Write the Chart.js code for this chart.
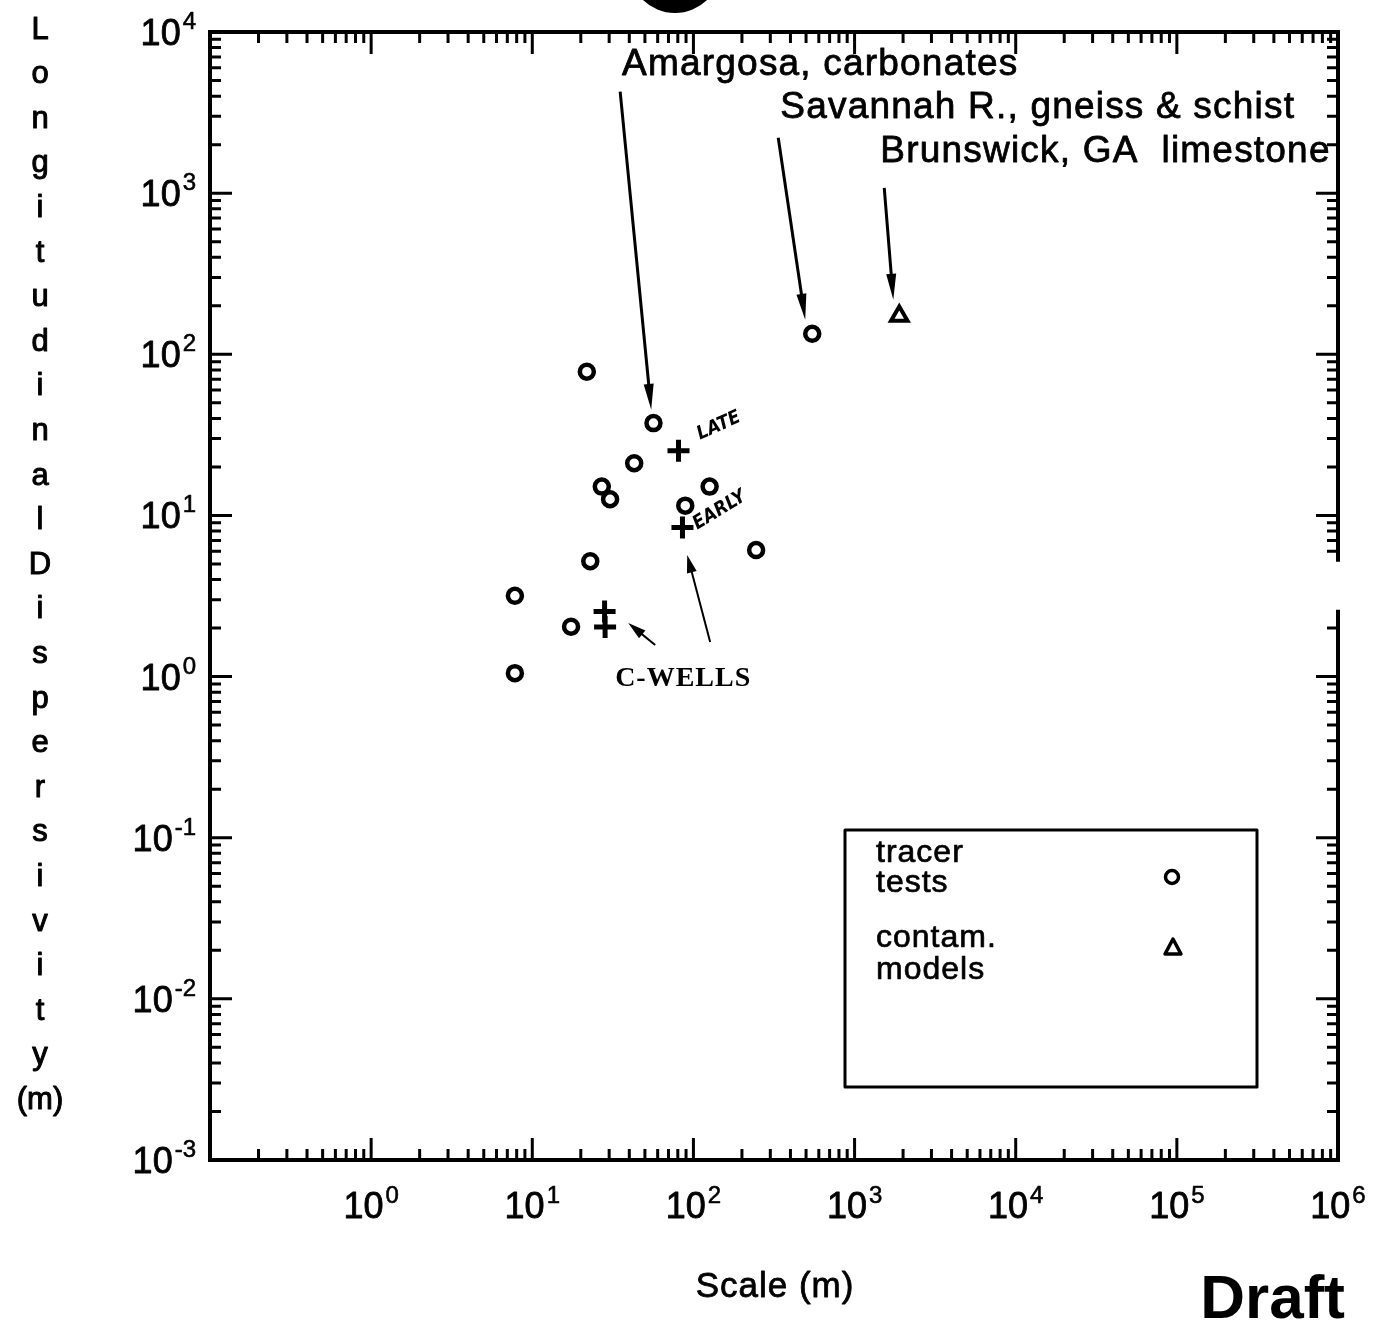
<!DOCTYPE html>
<html>
<head>
<meta charset="utf-8">
<title>Longitudinal dispersivity vs scale</title>
<script src="https://cdn.jsdelivr.net/npm/chart.js@4.4.0/dist/chart.umd.min.js"></script>
<style>
html, body { margin: 0; padding: 0; background: #fff; }
#wrap { width: 1379px; height: 1323px; }
</style>
</head>
<body>
<div id="wrap"><canvas id="chart" width="1379" height="1323"></canvas></div>
<script>
// values (scale in m, dispersivity in m)
const tracerX = [7.8, 7.8, 17.4, 21.8, 22.9, 27.0, 30.4, 42.9, 56.5, 89, 126, 245, 546];
const tracerY = [3.17, 1.05, 2.04, 78, 5.2, 15.1, 12.6, 21.1, 37.4, 11.5, 15.1, 6.1, 134];
const contamX = [1894];
const contamY = [173];
const cwellsX = [80.8, 85.5, 28.1, 28.3];
const cwellsY = [25.2, 8.41, 2.53, 2.03];

// axis ticks (powers of ten)
const xTickPowers = [0, 1, 2, 3, 4, 5, 6];
const yTickPowers = [4, 3, 2, 1, 0, -1, -2, -3];

// text
const xTitle = 'Scale (m)';
const yTitle = ['L','o','n','g','i','t','u','d','i','n','a','l','D','i','s','p','e','r','s','i','v','i','t','y','(m)'];
const legendRows = [['tracer', 'tests'], ['contam.', 'models']];

// annotation labels, anchored in data units
const noteText  = ['Amargosa, carbonates', 'Savannah R., gneiss & schist', 'Brunswick, GA  limestone'];
const noteX     = [36.1, 346, 1445];
const noteY     = [5433, 2938, 1567];
// arrows: tail -> head, in data units
const arrowX0 = [35.1, 336, 1528, 57.9, 127];
const arrowY0 = [4261, 2208, 1080, 1.57, 1.64];
const arrowX1 = [54.7, 494, 1739, 39.4, 91.5];
const arrowY1 = [45.2, 164, 218, 2.15, 5.69];

const SANS = "'Liberation Sans', Arial, Helvetica, sans-serif";

// scanned print is heavy, so fill and stroke the glyphs
function inkText(c, t, x, y, w) {
    c.fillText(t, x, y);
    if (w > 0) {
        c.lineWidth = w;
        c.lineJoin = 'round';
        c.strokeText(t, x, y);
    }
}

function drawArrow(c, x0, y0, x1, y1, lw, headLen, headW) {
    const a = Math.atan2(y1 - y0, x1 - x0);
    c.save();
    c.lineWidth = lw;
    c.strokeStyle = '#000';
    c.fillStyle = '#000';
    c.beginPath();
    c.moveTo(x0, y0);
    c.lineTo(x1 - Math.cos(a) * headLen * 0.8, y1 - Math.sin(a) * headLen * 0.8);
    c.stroke();
    c.beginPath();
    c.moveTo(x1, y1);
    c.lineTo(x1 - Math.cos(a) * headLen - Math.sin(a) * headW, y1 - Math.sin(a) * headLen + Math.cos(a) * headW);
    c.lineTo(x1 - Math.cos(a) * headLen + Math.sin(a) * headW, y1 - Math.sin(a) * headLen - Math.cos(a) * headW);
    c.closePath();
    c.fill();
    c.restore();
}

// box, inward ticks on all four sides, power-of-ten labels with superscripts
const framePlugin = {
    id: 'frame',
    afterDatasetsDraw(chart) {
        const c = chart.ctx;
        const xs = chart.scales.x, ys = chart.scales.y;
        const a = chart.chartArea;
        const gapTop = ys.getPixelForValue(5.15), gapBot = ys.getPixelForValue(2.6);
        c.save();
        c.strokeStyle = '#000';
        c.lineCap = 'butt';

        // frame
        c.lineWidth = 4;
        c.beginPath();
        c.moveTo(a.left, a.top); c.lineTo(a.right, a.top);
        c.moveTo(a.left, a.bottom); c.lineTo(a.right, a.bottom);
        c.moveTo(a.left, a.top - 2); c.lineTo(a.left, a.bottom + 2);
        c.moveTo(a.right, a.top - 2); c.lineTo(a.right, gapTop);
        c.moveTo(a.right, gapBot); c.lineTo(a.right, a.bottom + 2);
        c.stroke();

        // ticks
        c.lineWidth = 3;
        c.beginPath();
        for (let p = -1; p <= 6; p++) {
            for (let m = 1; m <= 9; m++) {
                const v = m * Math.pow(10, p);
                if (v < 0.1 || v > 1e6) continue;
                const px = xs.getPixelForValue(v);
                const len = m === 1 ? 22 : 11;
                c.moveTo(px, a.bottom); c.lineTo(px, a.bottom - len);
                c.moveTo(px, a.top); c.lineTo(px, a.top + len);
            }
        }
        for (let p = -3; p <= 4; p++) {
            for (let m = 1; m <= 9; m++) {
                const v = m * Math.pow(10, p);
                if (v > 1e4) continue;
                const py = ys.getPixelForValue(v);
                const len = m === 1 ? 22 : 11;
                c.moveTo(a.left, py); c.lineTo(a.left + len, py);
                if (py < gapTop - 1 || py > gapBot + 1) {
                    c.moveTo(a.right, py); c.lineTo(a.right - len, py);
                }
            }
        }
        c.stroke();

        // tick labels
        c.fillStyle = '#000';
        c.textBaseline = 'alphabetic';
        const big = '36px ' + SANS, small = '24px ' + SANS;
        xTickPowers.forEach(p => {
            const px = xs.getPixelForValue(Math.pow(10, p));
            c.font = big;
            const wb = c.measureText('10').width;
            c.font = small;
            const ws = c.measureText(String(p)).width;
            const left = px - (wb + ws + 2) / 2;
            c.font = big;
            c.textAlign = 'left';
            inkText(c, '10', left, 1218, 0.8);
            c.font = small;
            inkText(c, String(p), left + wb + 2, 1203, 0.6);
        });
        yTickPowers.forEach(p => {
            const py = ys.getPixelForValue(Math.pow(10, p));
            const exp = p < 0 ? '-' + Math.abs(p) : String(p);
            c.font = small;
            const ws = c.measureText(exp).width;
            c.textAlign = 'right';
            c.font = big;
            inkText(c, '10', 196 - ws - 2, py + 13, 0.8);
            c.font = small;
            inkText(c, exp, 196, py - 3, 0.6);
        });

        // axis titles
        c.font = '35px ' + SANS;
        c.letterSpacing = '1px';
        c.textAlign = 'center';
        inkText(c, xTitle, 775, 1297, 0.8);
        c.letterSpacing = '0px';
        c.font = '31px ' + SANS;
        c.textBaseline = 'middle';
        yTitle.forEach((s, i) => {
            inkText(c, s, 40, 30 + i * 44.6, 1);
        });

        // "Draft" stamp
        c.font = 'bold 62px ' + SANS;
        c.textAlign = 'right';
        c.textBaseline = 'alphabetic';
        c.fillText('Draft', 1345, 1318);

        // dark blot above the frame
        c.beginPath();
        c.arc(675, -33, 46, 0, Math.PI * 2);
        c.fill();
        c.restore();
    }
};

// annotations and the boxed legend
const notesPlugin = {
    id: 'notes',
    afterDraw(chart) {
        const c = chart.ctx;
        const xs = chart.scales.x, ys = chart.scales.y;
        c.save();
        c.fillStyle = '#000';
        c.strokeStyle = '#000';
        c.textAlign = 'left';
        c.textBaseline = 'alphabetic';
        c.font = '37px ' + SANS;
        c.letterSpacing = '1.2px';
        noteText.forEach((t, i) => {
            inkText(c, t, xs.getPixelForValue(noteX[i]), ys.getPixelForValue(noteY[i]), 0.8);
        });
        c.letterSpacing = '0px';

        arrowX0.forEach((x0, i) => {
            const thin = i >= 3;
            drawArrow(c,
                xs.getPixelForValue(x0), ys.getPixelForValue(arrowY0[i]),
                xs.getPixelForValue(arrowX1[i]), ys.getPixelForValue(arrowY1[i]),
                thin ? 2 : 3, thin ? 18 : 26, thin ? 5 : 5);
        });

        // C-WELLS label
        c.font = "bold 28px 'Liberation Serif', 'Times New Roman', serif";
        c.textAlign = 'center';
        c.letterSpacing = '1px';
        c.fillText('C-WELLS', xs.getPixelForValue(86.4), ys.getPixelForValue(0.876));
        c.letterSpacing = '0px';

        // hand-written tags
        c.font = "bold italic 19px 'DejaVu Sans Condensed', 'DejaVu Sans', sans-serif";
        c.textAlign = 'left';
        c.save();
        c.translate(xs.getPixelForValue(110), ys.getPixelForValue(29.5));
        c.rotate(-0.42);
        c.fillText('LATE', 0, 0);
        c.restore();
        c.save();
        c.translate(xs.getPixelForValue(105.6), ys.getPixelForValue(8.14));
        c.rotate(-0.55);
        c.fillText('EARLY', 0, 0);
        c.restore();

        // legend box
        const bx = 845, by = 830, bw = 412, bh = 257;
        c.lineWidth = 3;
        c.strokeRect(bx, by, bw, bh);
        c.font = '32px ' + SANS;
        c.letterSpacing = '1px';
        c.textAlign = 'left';
        inkText(c, legendRows[0][0], 876, 862, 0.7);
        inkText(c, legendRows[0][1], 876, 892, 0.7);
        inkText(c, legendRows[1][0], 876, 947, 0.7);
        inkText(c, legendRows[1][1], 876, 979, 0.7);
        c.letterSpacing = '0px';
        c.lineWidth = 3.5;
        c.beginPath();
        c.arc(1172, 877, 6.5, 0, Math.PI * 2);
        c.stroke();
        c.beginPath();
        c.moveTo(1173, 939); c.lineTo(1181, 954); c.lineTo(1165, 954); c.closePath();
        c.stroke();
        c.restore();
    }
};

const ctx = document.getElementById('chart').getContext('2d');
const toPoints = (xs, ys) => xs.map((x, i) => ({ x: x, y: ys[i] }));

new Chart(ctx, {
    type: 'scatter',
    data: {
        datasets: [{
            label: 'tracer tests',
            data: toPoints(tracerX, tracerY),
            pointStyle: 'circle',
            pointRadius: 7,
            borderWidth: 4.5,
            borderColor: '#000',
            backgroundColor: '#fff'
        }, {
            label: 'contam. models',
            data: toPoints(contamX, contamY),
            pointStyle: 'triangle',
            pointRadius: 9.5,
            borderWidth: 4,
            borderColor: '#000',
            backgroundColor: '#fff'
        }, {
            label: 'C-Wells',
            data: toPoints(cwellsX, cwellsY),
            pointStyle: 'cross',
            pointRadius: 11,
            borderWidth: 5,
            borderColor: '#000',
            backgroundColor: '#000'
        }]
    },
    options: {
        responsive: false,
        animation: false,
        events: [],
        layout: { padding: { left: 210, right: 41, top: 32, bottom: 163 } },
        scales: {
            x: { type: 'logarithmic', min: 0.1, max: 1e6, display: false },
            y: { type: 'logarithmic', min: 1e-3, max: 1e4, display: false }
        },
        plugins: {
            legend: { display: false },
            tooltip: { enabled: false }
        }
    },
    plugins: [framePlugin, notesPlugin]
});
</script>
</body>
</html>
